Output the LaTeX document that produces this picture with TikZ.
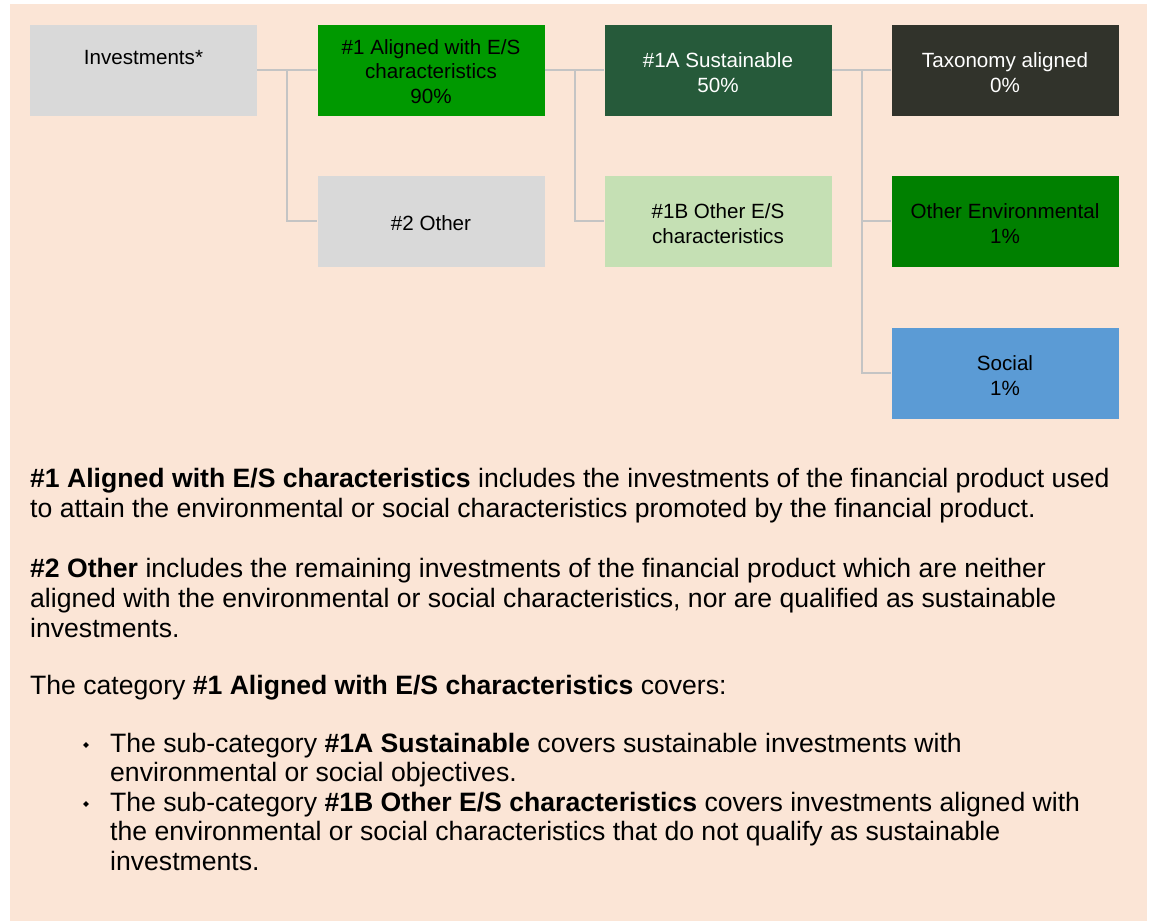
\documentclass[tikz,border=0pt]{standalone}
\usepackage{fontspec}
\setmainfont{Liberation Sans}
\usetikzlibrary{calc,shapes.geometric}
\definecolor{peach}{HTML}{FBE5D6}
\definecolor{boxgray}{HTML}{D9D9D9}
\definecolor{brightgreen}{HTML}{009900}
\definecolor{darkgreen}{HTML}{265A3A}
\definecolor{taxdark}{HTML}{31332B}
\definecolor{lightgreen}{HTML}{C5E0B4}
\definecolor{envgreen}{HTML}{008000}
\definecolor{socblue}{HTML}{5B9BD5}
\definecolor{connc}{HTML}{C4C4C4}
\tikzset{
  box/.style={rectangle, inner sep=0pt, minimum width=227pt, minimum height=91pt},
  boxtext/.style={inner sep=0pt, align=center, yshift=-2.5pt,
    font=\fontsize{20.6}{24.3}\selectfont},
  conn/.style={draw=connc, line width=2pt},
  body/.style={anchor=base west, inner sep=0pt, font=\fontsize{26.6}{30}\selectfont},
  bul/.style={diamond, fill=black, inner sep=0pt, minimum size=6pt}
}
\begin{document}
\begin{tikzpicture}[x=1pt,y=-1pt]
\useasboundingbox (0,0) rectangle (1152,921);
\fill[white] (0,0) rectangle (1152,921);
\fill[peach] (10,4) rectangle (1147,921);

\node[box, fill=boxgray] (inv) at (143.5,70) {};
\node[box, fill=brightgreen] (a1) at (431,70) {};
\node[box, fill=darkgreen] (s1a) at (718,70) {};
\node[box, fill=taxdark] (tax) at (1005,70) {};
\node[box, fill=boxgray] (oth) at (431,221) {};
\node[box, fill=lightgreen] (b1) at (718,221) {};
\node[box, fill=envgreen] (env) at (1005,221) {};
\node[box, fill=socblue] (soc) at (1005,373) {};

\node[boxtext, yshift=15pt] (invt) at (inv.center) {Investments*};
\node[boxtext, yshift=1pt] (a1t) at (a1.center) {\#1 Aligned with E/S\\characteristics\\90\%};
\node[boxtext, text=white] (s1at) at (s1a.center) {\#1A Sustainable\\50\%};
\node[boxtext, text=white] (taxt) at (tax.center) {Taxonomy aligned\\0\%};
\node[boxtext] (otht) at (oth.center) {\#2 Other};
\node[boxtext] (b1t) at (b1.center) {\#1B Other E/S\\characteristics};
\node[boxtext] (envt) at (env.center) {Other Environmental\\1\%};
\node[boxtext] (soct) at (soc.center) {Social\\1\%};

\draw[conn] (inv.east) -- (a1.west);
\draw[conn] ($(inv.east)!0.5!(a1.west)$) |- (oth.west);
\draw[conn] (a1.east) -- (s1a.west);
\draw[conn] ($(a1.east)!0.5!(s1a.west)$) |- (b1.west);
\draw[conn] (s1a.east) -- (tax.west);
\draw[conn] ($(s1a.east)!0.5!(tax.west)$) |- (env.west);
\draw[conn] ($(s1a.east)!0.5!(tax.west)$) |- (soc.west);

\node[body] (t1) at (30,487.5) {\textbf{\#1 Aligned with E/S characteristics} includes the investments of the financial product used};
\node[body] (t2) at (30,517) {to attain the environmental or social characteristics promoted by the financial product.};
\node[body] (t3) at (30,577) {\textbf{\#2 Other} includes the remaining investments of the financial product which are neither};
\node[body] (t4) at (30,607) {aligned with the environmental or social characteristics, nor are qualified as sustainable};
\node[body] (t5) at (30,637) {investments.};
\node[body] (t6) at (30,694) {The category \textbf{\#1 Aligned with E/S characteristics} covers:};
\node[bul] (b1d) at (86,745) {};
\node[body] (t7) at (110,752) {The sub-category \textbf{\#1A Sustainable} covers sustainable investments with};
\node[body] (t8) at (110,781) {environmental or social objectives.};
\node[bul] (b2d) at (86,804) {};
\node[body] (t9) at (110,811) {The sub-category \textbf{\#1B Other E/S characteristics} covers investments aligned with};
\node[body] (t10) at (110,840) {the environmental or social characteristics that do not qualify as sustainable};
\node[body] (t11) at (110,870) {investments.};
\end{tikzpicture}
\end{document}
